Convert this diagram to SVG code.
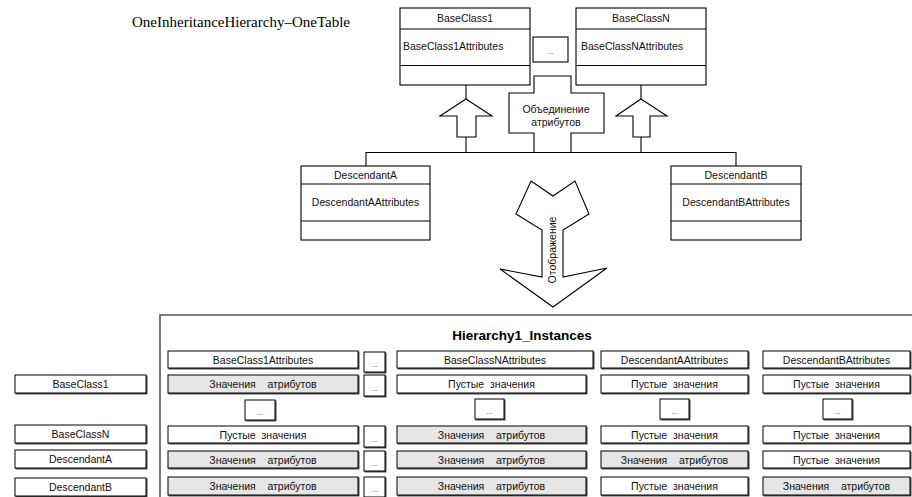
<svg xmlns="http://www.w3.org/2000/svg" width="912" height="497" viewBox="0 0 912 497">
  <defs>
    <filter id="shadow" x="-5%" y="-5%" width="115%" height="130%">
      <feOffset in="SourceAlpha" dx="1" dy="1" result="off"/>
      <feComponentTransfer in="off" result="soft">
        <feFuncA type="linear" slope="0.7"/>
      </feComponentTransfer>
      <feMerge><feMergeNode in="soft"/><feMergeNode in="SourceGraphic"/></feMerge>
    </filter>
  </defs>
  <style>
    .box { fill: #fff; stroke: #000; stroke-width: 1.1; }
    .cell { fill: #fff; stroke: #000; stroke-width: 1; filter: url(#shadow); }
    .val { fill: #e6e6e6; }
    .ln { fill: none; stroke: #000; stroke-width: 1.1; }
    .frame { fill: none; stroke: #555; stroke-width: 1.6; }
    .t { font-family: "Liberation Sans", Arial, sans-serif; font-size: 10.5px; fill: #111; }
    .c { text-anchor: middle; }
    .dots { font-family: "Liberation Sans", Arial, sans-serif; font-size: 8px; fill: #555; text-anchor: middle; }
    .title { font-family: "Liberation Serif", "Times New Roman", serif; font-size: 15px; fill: #000; }
    .hdr { font-family: "Liberation Sans", Arial, sans-serif; font-size: 13.5px; font-weight: bold; text-anchor: middle; fill: #000; }
  </style>

  <rect width="912" height="497" fill="#fff"/>

  <text class="title" x="132" y="27">OneInheritanceHierarchy–OneTable</text>

  <!-- class hierarchy -->
  <g id="baseclass1">
    <rect class="box" x="400" y="8" width="130" height="77"/>
    <line class="ln" x1="400" y1="29" x2="530" y2="29"/>
    <line class="ln" x1="400" y1="65.5" x2="530" y2="65.5"/>
    <text class="t c" x="465" y="22">BaseClass1</text>
    <text class="t" x="403" y="50">BaseClass1Attributes</text>
  </g>
  <g id="base-dots">
    <rect class="box" x="533" y="37" width="35" height="25"/>
    <text class="dots" x="550.5" y="54">...</text>
  </g>
  <g id="baseclassN">
    <rect class="box" x="576" y="8" width="130" height="77"/>
    <line class="ln" x1="576" y1="29" x2="706" y2="29"/>
    <line class="ln" x1="576" y1="65.5" x2="706" y2="65.5"/>
    <text class="t c" x="641" y="22">BaseClassN</text>
    <text class="t" x="581" y="50">BaseClassNAttributes</text>
  </g>
  <g id="merge">
    <polygon class="box" points="534,76 571,76 571,93 604,93 604,133 571,133 571,152.5 534,152.5 534,133 509,133 509,93 534,93"/>
    <text class="t c" x="556" y="113">Объединение</text>
    <text class="t c" x="556" y="126">атрибутов</text>
  </g>
  <g id="descendantA">
    <rect class="box" x="301" y="166" width="129" height="74"/>
    <line class="ln" x1="301" y1="184" x2="430" y2="184"/>
    <line class="ln" x1="301" y1="221" x2="430" y2="221"/>
    <text class="t c" x="365.5" y="179">DescendantA</text>
    <text class="t c" x="365.5" y="206">DescendantAAttributes</text>
  </g>
  <g id="descendantB">
    <rect class="box" x="671" y="166" width="130" height="74"/>
    <line class="ln" x1="671" y1="184" x2="801" y2="184"/>
    <line class="ln" x1="671" y1="221" x2="801" y2="221"/>
    <text class="t c" x="736" y="179">DescendantB</text>
    <text class="t c" x="736" y="206">DescendantBAttributes</text>
  </g>

  <g id="connectors">
    <polyline class="ln" points="366,166 366,152.5 736,152.5 736,166"/>
    <line class="ln" x1="466" y1="85" x2="466" y2="99"/>
    <line class="ln" x1="466" y1="137" x2="466" y2="152.5"/>
    <polygon class="box" points="466,99 492,116 476,116 476,137 457,137 457,116 440,116"/>
    <line class="ln" x1="641" y1="85" x2="641" y2="99"/>
    <line class="ln" x1="641" y1="137" x2="641" y2="152.5"/>
    <polygon class="box" points="641,99 667,116 650,116 650,137 633,137 633,116 616,116"/>
  </g>

  <g id="mapping">
    <polygon class="box" points="531,181 553,196 575,181 589,214 563,230 563,277 607,268 553,307 500,269 542,277 542,230 516,214"/>
    <text class="t c" transform="translate(555.5,250) rotate(-90)" font-size="10">Отображение</text>
  </g>

  <!-- table -->
  <g id="table">
    <polyline class="frame" points="160,497 160,315 912,315"/>
    <text class="hdr" x="522" y="340">Hierarchy1_Instances</text>

    <!-- row labels -->
    <g id="row-labels">
      <rect class="cell" x="15" y="375" width="131" height="18"/>
      <text class="t c" x="80.5" y="388">BaseClass1</text>
      <rect class="cell" x="15" y="425" width="131" height="18"/>
      <text class="t c" x="80.5" y="438">BaseClassN</text>
      <rect class="cell" x="15" y="450" width="131" height="18"/>
      <text class="t c" x="80.5" y="463">DescendantA</text>
      <rect class="cell" x="15" y="478" width="131" height="18"/>
      <text class="t c" x="80.5" y="491">DescendantB</text>
    </g>

    <!-- column headers -->
    <g id="col-headers">
      <rect class="cell" x="168" y="351" width="190" height="17"/>
      <text class="t c" x="263" y="363.5">BaseClass1Attributes</text>
      <rect class="cell" x="397" y="351" width="196" height="17"/>
      <text class="t c" x="495" y="363.5">BaseClassNAttributes</text>
      <rect class="cell" x="601" y="351" width="147" height="17"/>
      <text class="t c" x="674.5" y="363.5">DescendantAAttributes</text>
      <rect class="cell" x="763" y="351" width="147" height="17"/>
      <text class="t c" x="836.5" y="363.5">DescendantBAttributes</text>
    </g>

    <!-- dots column -->
    <g id="dots-col">
      <rect class="cell" x="364" y="352" width="21" height="20"/>
      <text class="dots" x="374.5" y="367">...</text>
      <rect class="cell" x="364" y="375" width="21" height="21"/>
      <text class="dots" x="374.5" y="391">...</text>
      <rect class="cell" x="364" y="426" width="21" height="21"/>
      <text class="dots" x="374.5" y="442">...</text>
      <rect class="cell" x="364" y="451" width="21" height="20"/>
      <text class="dots" x="374.5" y="466">...</text>
      <rect class="cell" x="364" y="477" width="21" height="20"/>
      <text class="dots" x="374.5" y="492">...</text>
    </g>

    <!-- dots row -->
    <g id="dots-row">
      <rect class="cell" x="245" y="400" width="30" height="20"/>
      <text class="dots" x="260" y="415">...</text>
      <rect class="cell" x="475" y="399" width="29" height="20"/>
      <text class="dots" x="489.5" y="414">...</text>
      <rect class="cell" x="660" y="399" width="29" height="20"/>
      <text class="dots" x="674.5" y="414">...</text>
      <rect class="cell" x="823" y="399" width="29" height="20"/>
      <text class="dots" x="837.5" y="414">...</text>
    </g>

    <!-- row BaseClass1 -->
    <g id="row-baseclass1">
      <rect class="cell val" x="168" y="375" width="190" height="18"/>
      <text class="t c" x="263" y="388" xml:space="preserve">Значения    атрибутов</text>
      <rect class="cell" x="397" y="375" width="189" height="18"/>
      <text class="t c" x="491.5" y="388" xml:space="preserve">Пустые  значения</text>
      <rect class="cell" x="601" y="375" width="147" height="18"/>
      <text class="t c" x="674.5" y="388" xml:space="preserve">Пустые  значения</text>
      <rect class="cell" x="763" y="375" width="147" height="18"/>
      <text class="t c" x="836.5" y="388" xml:space="preserve">Пустые  значения</text>
    </g>

    <!-- row BaseClassN -->
    <g id="row-baseclassN">
      <rect class="cell" x="168" y="426" width="190" height="17"/>
      <text class="t c" x="263" y="438.5" xml:space="preserve">Пустые  значения</text>
      <rect class="cell val" x="397" y="426" width="189" height="17"/>
      <text class="t c" x="491.5" y="438.5" xml:space="preserve">Значения    атрибутов</text>
      <rect class="cell" x="601" y="426" width="147" height="17"/>
      <text class="t c" x="674.5" y="438.5" xml:space="preserve">Пустые  значения</text>
      <rect class="cell" x="763" y="426" width="147" height="17"/>
      <text class="t c" x="836.5" y="438.5" xml:space="preserve">Пустые  значения</text>
    </g>

    <!-- row DescendantA -->
    <g id="row-descendantA">
      <rect class="cell val" x="168" y="451" width="190" height="17"/>
      <text class="t c" x="263" y="463.5" xml:space="preserve">Значения    атрибутов</text>
      <rect class="cell val" x="397" y="451" width="189" height="17"/>
      <text class="t c" x="491.5" y="463.5" xml:space="preserve">Значения    атрибутов</text>
      <rect class="cell val" x="601" y="451" width="147" height="17"/>
      <text class="t c" x="674.5" y="463.5" xml:space="preserve">Значения    атрибутов</text>
      <rect class="cell" x="763" y="451" width="147" height="17"/>
      <text class="t c" x="836.5" y="463.5" xml:space="preserve">Пустые  значения</text>
    </g>

    <!-- row DescendantB -->
    <g id="row-descendantB">
      <rect class="cell val" x="168" y="477" width="190" height="18"/>
      <text class="t c" x="263" y="490" xml:space="preserve">Значения    атрибутов</text>
      <rect class="cell val" x="397" y="477" width="189" height="18"/>
      <text class="t c" x="491.5" y="490" xml:space="preserve">Значения    атрибутов</text>
      <rect class="cell" x="601" y="477" width="147" height="18"/>
      <text class="t c" x="674.5" y="490" xml:space="preserve">Пустые  значения</text>
      <rect class="cell val" x="763" y="477" width="147" height="18"/>
      <text class="t c" x="836.5" y="490" xml:space="preserve">Значения    атрибутов</text>
    </g>
  </g>
</svg>
